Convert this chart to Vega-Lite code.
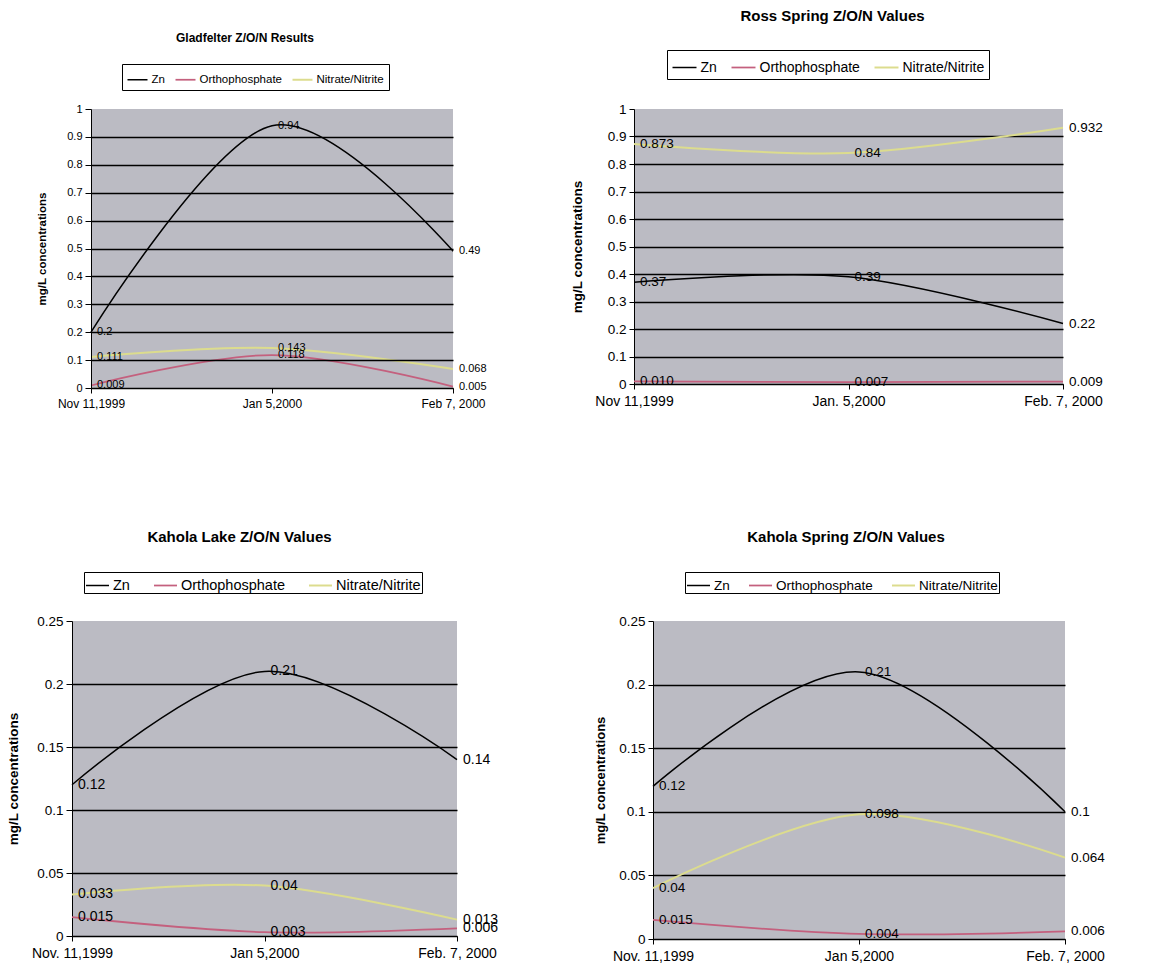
{
  "$schema": "https://vega.github.io/schema/vega-lite/v6.json",
  "background": "white",
  "padding": {"left": 6, "top": 6, "right": 5, "bottom": 5},
  "config": {
    "font": "Liberation Sans",
    "view": {"stroke": null, "fill": "#bbbbc3"},
    "axis": {"labelColor": "black", "titleColor": "black", "domainColor": "black", "tickColor": "black", "labelFont": "Liberation Sans", "titleFont": "Liberation Sans"},
    "legend": {"labelFont": "Liberation Sans", "labelColor": "black"},
    "title": {"font": "Liberation Sans", "color": "black", "fontWeight": "bold"}
  },
  "datasets": {
    "gl": [
      {"date": "Nov 11,1999", "series": "Zn", "value": 0.2, "label": "0.2"},
      {"date": "Jan 5,2000", "series": "Zn", "value": 0.94, "label": "0.94"},
      {"date": "Feb 7, 2000", "series": "Zn", "value": 0.49, "label": "0.49"},
      {"date": "Nov 11,1999", "series": "Orthophosphate", "value": 0.009, "label": "0.009"},
      {"date": "Jan 5,2000", "series": "Orthophosphate", "value": 0.118, "label": "0.118"},
      {"date": "Feb 7, 2000", "series": "Orthophosphate", "value": 0.005, "label": "0.005"},
      {"date": "Nov 11,1999", "series": "Nitrate/Nitrite", "value": 0.111, "label": "0.111"},
      {"date": "Jan 5,2000", "series": "Nitrate/Nitrite", "value": 0.143, "label": "0.143"},
      {"date": "Feb 7, 2000", "series": "Nitrate/Nitrite", "value": 0.068, "label": "0.068"}
    ],
    "rs": [
      {"date": "Nov 11,1999", "series": "Zn", "value": 0.37, "label": "0.37"},
      {"date": "Jan. 5,2000", "series": "Zn", "value": 0.39, "label": "0.39"},
      {"date": "Feb. 7, 2000", "series": "Zn", "value": 0.22, "label": "0.22"},
      {"date": "Nov 11,1999", "series": "Orthophosphate", "value": 0.01, "label": "0.010"},
      {"date": "Jan. 5,2000", "series": "Orthophosphate", "value": 0.007, "label": "0.007"},
      {"date": "Feb. 7, 2000", "series": "Orthophosphate", "value": 0.009, "label": "0.009"},
      {"date": "Nov 11,1999", "series": "Nitrate/Nitrite", "value": 0.873, "label": "0.873"},
      {"date": "Jan. 5,2000", "series": "Nitrate/Nitrite", "value": 0.84, "label": "0.84"},
      {"date": "Feb. 7, 2000", "series": "Nitrate/Nitrite", "value": 0.932, "label": "0.932"}
    ],
    "kl": [
      {"date": "Nov. 11,1999", "series": "Zn", "value": 0.12, "label": "0.12"},
      {"date": "Jan 5,2000", "series": "Zn", "value": 0.21, "label": "0.21"},
      {"date": "Feb. 7, 2000", "series": "Zn", "value": 0.14, "label": "0.14"},
      {"date": "Nov. 11,1999", "series": "Orthophosphate", "value": 0.015, "label": "0.015"},
      {"date": "Jan 5,2000", "series": "Orthophosphate", "value": 0.003, "label": "0.003"},
      {"date": "Feb. 7, 2000", "series": "Orthophosphate", "value": 0.006, "label": "0.006"},
      {"date": "Nov. 11,1999", "series": "Nitrate/Nitrite", "value": 0.033, "label": "0.033"},
      {"date": "Jan 5,2000", "series": "Nitrate/Nitrite", "value": 0.04, "label": "0.04"},
      {"date": "Feb. 7, 2000", "series": "Nitrate/Nitrite", "value": 0.013, "label": "0.013"}
    ],
    "ks": [
      {"date": "Nov. 11,1999", "series": "Zn", "value": 0.12, "label": "0.12"},
      {"date": "Jan 5,2000", "series": "Zn", "value": 0.21, "label": "0.21"},
      {"date": "Feb. 7, 2000", "series": "Zn", "value": 0.1, "label": "0.1"},
      {"date": "Nov. 11,1999", "series": "Orthophosphate", "value": 0.015, "label": "0.015"},
      {"date": "Jan 5,2000", "series": "Orthophosphate", "value": 0.004, "label": "0.004"},
      {"date": "Feb. 7, 2000", "series": "Orthophosphate", "value": 0.006, "label": "0.006"},
      {"date": "Nov. 11,1999", "series": "Nitrate/Nitrite", "value": 0.04, "label": "0.04"},
      {"date": "Jan 5,2000", "series": "Nitrate/Nitrite", "value": 0.098, "label": "0.098"},
      {"date": "Feb. 7, 2000", "series": "Nitrate/Nitrite", "value": 0.064, "label": "0.064"}
    ]
  },
  "resolve": {"scale": {"color": "independent", "strokeWidth": "independent"}, "legend": {"color": "independent"}},
  "spacing": 121,
  "vconcat": [
    {
      "spacing": 83,
      "resolve": {"scale": {"color": "independent", "strokeWidth": "independent", "x": "independent", "y": "independent"}, "legend": {"color": "independent"}},
      "hconcat": [
        {
          "width": 381, "height": 279,
          "view": {"fill": null, "stroke": null},
          "title": {"text": ["", "Gladfelter Z/O/N Results"], "fontSize": 12, "lineHeight": 25.5, "offset": 19, "frame": "group", "dx": -17.5},
          "data": {"name": "gl"},
          "encoding": {
            "x": {"field": "date", "type": "ordinal", "sort": null, "scale": {"type": "point", "padding": 0, "range": [19, 381], "domain": ["Nov 11,1999", "Jan 5,2000", "Feb 7, 2000"]},
              "axis": {"title": null, "labelAngle": 0, "labelFontSize": 12, "tickSize": 5, "labelPadding": 5, "grid": false, "zindex": 1}},
            "y": {"field": "value", "type": "quantitative", "scale": {"domain": [0, 1]},
              "axis": {"offset": -19, "zindex": 1, "title": "mg/L concentrations", "titleFontSize": 11.5, "titleFontWeight": "bold", "titlePadding": 19, "format": "~g", "tickCount": 10, "labelFontSize": 11, "tickSize": 6, "labelPadding": 3, "grid": true, "gridColor": "black", "gridWidth": 1.5, "gridOpacity": {"condition": {"test": "datum.value >= 0.999", "value": 0}, "value": 1}}}
          },
          "layer": [
            {
              "mark": {"type": "rect", "color": "#bbbbc3"},
              "encoding": {
                "x": {"datum": "Nov 11,1999", "type": "ordinal"},
                "x2": {"datum": "Feb 7, 2000"},
                "y": {"datum": 0, "type": "quantitative"},
                "y2": {"datum": 1}
              }
            },
            {
              "mark": {"type": "line", "interpolate": "cardinal"},
              "encoding": {
                "color": {"field": "series", "type": "nominal", "scale": {"domain": ["Zn", "Orthophosphate", "Nitrate/Nitrite"], "range": ["#000000", "#c4607e", "#dcdc8e"]},
                  "legend": {"orient": "none", "legendX": 50, "legendY": -45, "direction": "horizontal", "title": null, "fillColor": "white", "strokeColor": "black", "padding": 4.5, "symbolType": "stroke", "symbolSize": 400, "symbolStrokeWidth": 1.5, "labelFontSize": 11.5, "labelOffset": 3, "columnPadding": 6}},
                "strokeWidth": {"field": "series", "type": "ordinal", "scale": {"domain": ["Zn", "Orthophosphate", "Nitrate/Nitrite"], "range": [1.5, 2, 4.5]}, "legend": null}
              }
            },
            {
              "mark": {"type": "text", "align": "left", "baseline": "middle", "dx": 6, "fontSize": 11, "color": "black"},
              "encoding": {"text": {"field": "label"}}
            }
          ]
        },
        {
          "width": 429, "height": 275,
          "title": {"text": "Ross Spring Z/O/N Values", "fontSize": 15, "offset": 26, "frame": "group", "dx": -16},
          "data": {"name": "rs"},
          "encoding": {
            "x": {"field": "date", "type": "ordinal", "sort": null, "scale": {"type": "point", "padding": 0},
              "axis": {"title": null, "labelAngle": 0, "labelFontSize": 14, "tickSize": 5, "labelPadding": 5, "grid": false}},
            "y": {"field": "value", "type": "quantitative", "scale": {"domain": [0, 1]},
              "axis": {"title": "mg/L concentrations", "titleFontSize": 13.5, "titleFontWeight": "bold", "titlePadding": 23, "format": "~g", "tickCount": 10, "labelFontSize": 13.5, "tickSize": 5, "labelPadding": 3, "grid": true, "gridColor": "black", "gridWidth": 1.5, "gridOpacity": {"condition": {"test": "datum.value >= 0.999", "value": 0}, "value": 1}}}
          },
          "layer": [
            {
              "mark": {"type": "line", "interpolate": "cardinal"},
              "encoding": {
                "color": {"field": "series", "type": "nominal", "scale": {"domain": ["Zn", "Orthophosphate", "Nitrate/Nitrite"], "range": ["#000000", "#c4607e", "#dcdc8e"]},
                  "legend": {"orient": "none", "legendX": 33, "legendY": -59, "direction": "horizontal", "title": null, "fillColor": "white", "strokeColor": "black", "padding": 4.5, "symbolType": "stroke", "symbolSize": 576, "symbolStrokeWidth": 1.5, "labelFontSize": 14, "labelOffset": 3, "columnPadding": 10}},
                "strokeWidth": {"field": "series", "type": "ordinal", "scale": {"domain": ["Zn", "Orthophosphate", "Nitrate/Nitrite"], "range": [1.5, 2, 4.5]}, "legend": null}
              }
            },
            {
              "mark": {"type": "text", "align": "left", "baseline": "middle", "dx": 6, "fontSize": 13.5, "color": "black"},
              "encoding": {"text": {"field": "label"}}
            }
          ]
        }
      ]
    },
    {
      "spacing": 95,
      "resolve": {"scale": {"color": "independent", "strokeWidth": "independent", "x": "independent", "y": "independent"}, "legend": {"color": "independent"}},
      "hconcat": [
        {
          "width": 385, "height": 315,
          "title": {"text": "Kahola Lake Z/O/N Values", "fontSize": 15, "offset": 26.5, "frame": "group", "dx": -25},
          "data": {"name": "kl"},
          "encoding": {
            "x": {"field": "date", "type": "ordinal", "sort": null, "scale": {"type": "point", "padding": 0},
              "axis": {"title": null, "labelAngle": 0, "labelFontSize": 14, "tickSize": 5, "labelPadding": 5, "grid": false}},
            "y": {"field": "value", "type": "quantitative", "scale": {"domain": [0, 0.25]},
              "axis": {"title": "mg/L concentrations", "titleFontSize": 13.5, "titleFontWeight": "bold", "titlePadding": 16, "format": "~g", "tickCount": 5, "labelFontSize": 13.5, "tickSize": 6, "labelPadding": 3, "grid": true, "gridColor": "black", "gridWidth": 1.5, "gridOpacity": {"condition": {"test": "datum.value >= 0.2499", "value": 0}, "value": 1}}}
          },
          "layer": [
            {
              "mark": {"type": "line", "interpolate": "cardinal"},
              "encoding": {
                "color": {"field": "series", "type": "nominal", "scale": {"domain": ["Zn", "Orthophosphate", "Nitrate/Nitrite"], "range": ["#000000", "#c4607e", "#dcdc8e"]},
                  "legend": {"orient": "none", "legendX": 12, "legendY": -49, "direction": "horizontal", "title": null, "fillColor": "white", "strokeColor": "black", "padding": 1, "symbolType": "stroke", "symbolSize": 529, "symbolStrokeWidth": 1.5, "labelFontSize": 14.5, "labelOffset": 3, "columnPadding": 20}},
                "strokeWidth": {"field": "series", "type": "ordinal", "scale": {"domain": ["Zn", "Orthophosphate", "Nitrate/Nitrite"], "range": [1.5, 2, 4.5]}, "legend": null}
              }
            },
            {
              "mark": {"type": "text", "align": "left", "baseline": "middle", "dx": 6, "fontSize": 14, "color": "black"},
              "encoding": {"text": {"field": "label"}}
            }
          ]
        },
        {
          "width": 412, "height": 318,
          "title": {"text": "Kahola Spring Z/O/N Values", "fontSize": 15, "offset": 26.5, "frame": "group", "dx": -13},
          "data": {"name": "ks"},
          "encoding": {
            "x": {"field": "date", "type": "ordinal", "sort": null, "scale": {"type": "point", "padding": 0},
              "axis": {"title": null, "labelAngle": 0, "labelFontSize": 14, "tickSize": 5, "labelPadding": 5, "grid": false}},
            "y": {"field": "value", "type": "quantitative", "scale": {"domain": [0, 0.25]},
              "axis": {"title": "mg/L concentrations", "titleFontSize": 13, "titleFontWeight": "bold", "titlePadding": 11, "format": "~g", "tickCount": 5, "labelFontSize": 13.5, "tickSize": 5, "labelPadding": 3, "grid": true, "gridColor": "black", "gridWidth": 1.5, "gridOpacity": {"condition": {"test": "datum.value >= 0.2499", "value": 0}, "value": 1}}}
          },
          "layer": [
            {
              "mark": {"type": "line", "interpolate": "cardinal"},
              "encoding": {
                "color": {"field": "series", "type": "nominal", "scale": {"domain": ["Zn", "Orthophosphate", "Nitrate/Nitrite"], "range": ["#000000", "#c4607e", "#dcdc8e"]},
                  "legend": {"orient": "none", "legendX": 32, "legendY": -49, "direction": "horizontal", "title": null, "fillColor": "white", "strokeColor": "black", "padding": 1, "symbolType": "stroke", "symbolSize": 529, "symbolStrokeWidth": 1.5, "labelFontSize": 13.5, "labelOffset": 3, "columnPadding": 15}},
                "strokeWidth": {"field": "series", "type": "ordinal", "scale": {"domain": ["Zn", "Orthophosphate", "Nitrate/Nitrite"], "range": [1.5, 2, 4.5]}, "legend": null}
              }
            },
            {
              "mark": {"type": "text", "align": "left", "baseline": "middle", "dx": 6, "fontSize": 13.5, "color": "black"},
              "encoding": {"text": {"field": "label"}}
            }
          ]
        }
      ]
    }
  ]
}
